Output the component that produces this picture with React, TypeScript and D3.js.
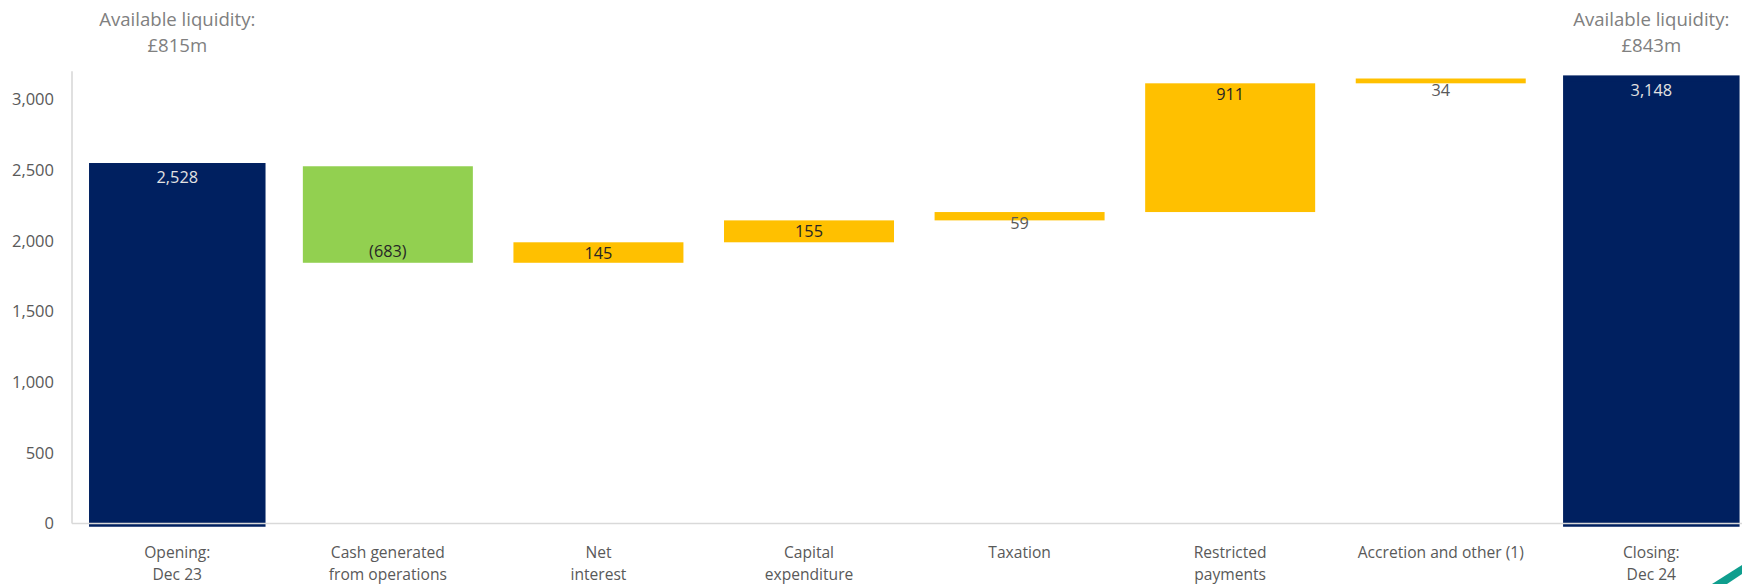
import React from "react";
import * as d3 from "d3";

const categories: string[][] = [
  ["Opening:", "Dec 23"],
  ["Cash generated", "from operations"],
  ["Net", "interest"],
  ["Capital", "expenditure"],
  ["Taxation"],
  ["Restricted", "payments"],
  ["Accretion and other (1)"],
  ["Closing:", "Dec 24"],
];
const kinds: string[] = ["total", "down", "up", "up", "up", "up", "up", "total"];
const values: number[] = [2528, -683, 145, 155, 59, 911, 34, 3148];
const yTicks: number[] = [0, 500, 1000, 1500, 2000, 2500, 3000];
const headerLines: string[][] = [
  ["Available liquidity:", "£815m"],
  ["Available liquidity:", "£843m"],
];
const headerAt: number[] = [0, 7];

const W = 1742;
const H = 584;
const FONT = "'Open Sans', 'Noto Sans', sans-serif";
const NAVY = "#002060";
const GREEN = "#92d050";
const GOLD = "#ffc000";
const AXIS = "#d9d9d9";

export default function App() {
  const x = d3
    .scaleBand<number>()
    .domain(d3.range(categories.length))
    .range([72, 1756.6])
    .paddingInner(0.1927)
    .paddingOuter(0.0963);
  const y = d3.scaleLinear().domain([0, 3200]).range([523.5, 71.3]);

  let run = 0;
  const bars = values.map((v, i) => {
    let lo: number, hi: number;
    if (kinds[i] === "total") {
      lo = 0;
      hi = v;
      run = v;
    } else {
      const start = run;
      run = run + v;
      lo = Math.min(start, run);
      hi = Math.max(start, run);
    }
    return { i, v, lo, hi, kind: kinds[i] };
  });

  const fmt = d3.format(",");
  const bw = x.bandwidth();

  return (
    <svg
      width={W}
      height={H}
      style={{ position: "absolute", left: 0, top: 0, background: "#fff" }}
      fontFamily={FONT}
    >
      {/* bars */}
      {bars.map((b) => {
        const x0 = x(b.i)!;
        const yTop = y(b.hi);
        const yBot = y(b.lo);
        const fill = b.kind === "total" ? NAVY : b.kind === "down" ? GREEN : GOLD;
        return (
          <rect
            key={"b" + b.i}
            x={x0}
            y={yTop}
            width={bw}
            height={Math.max(0, yBot - yTop)}
            fill={fill}
            stroke={b.kind === "total" ? NAVY : "none"}
            strokeWidth={b.kind === "total" ? 6.5 : 0}
          />
        );
      })}

      {/* axes */}
      <line x1={72} x2={72} y1={y(3200)} y2={y(0)} stroke={AXIS} strokeWidth={1.6} />
      <line x1={72} x2={W} y1={y(0)} y2={y(0)} stroke={AXIS} strokeWidth={1.6} />

      {yTicks.map((t) => (
        <text
          key={"t" + t}
          x={54}
          y={y(t) + 5.8}
          textAnchor="end"
          fontSize={16.5}
          fill="#595959"
        >
          {fmt(t)}
        </text>
      ))}

      {/* data labels */}
      {bars.map((b) => {
        const cx = x(b.i)! + bw / 2;
        const h = y(b.lo) - y(b.hi);
        let ty: number;
        let color: string;
        if (b.kind === "down") {
          ty = y(b.lo) - 6;
          color = "#262626";
        } else {
          ty = y(b.hi) + 17;
          color = b.kind === "total" ? "#e2e2e2" : h < 12 ? "#595959" : "#262626";
        }
        const label = b.v < 0 ? `(${fmt(-b.v)})` : fmt(b.v);
        return (
          <text key={"l" + b.i} x={cx} y={ty} textAnchor="middle" fontSize={16.3} fill={color}>
            {label}
          </text>
        );
      })}

      {/* category labels */}
      {categories.map((lines, i) => (
        <text
          key={"c" + i}
          x={x(i)! + bw / 2}
          y={558}
          textAnchor="middle"
          fontSize={15.6}
          fill="#595959"
        >
          {lines.map((ln, k) => (
            <tspan key={k} x={x(i)! + bw / 2} dy={k === 0 ? 0 : 22}>
              {ln}
            </tspan>
          ))}
        </text>
      ))}

      {/* headers */}
      {headerLines.map((lines, j) => (
        <text
          key={"h" + j}
          x={x(headerAt[j])! + bw / 2}
          y={26}
          textAnchor="middle"
          fontSize={18.6}
          fill="#808080"
        >
          {lines.map((ln, k) => (
            <tspan key={k} x={x(headerAt[j])! + bw / 2} dy={k === 0 ? 0 : 26}>
              {ln}
            </tspan>
          ))}
        </text>
      ))}

      {/* decorative corner stroke */}
      <polygon points="1712,584 1742,565 1742,574 1727,584" fill="#0f9e8e" />
    </svg>
  );
}
